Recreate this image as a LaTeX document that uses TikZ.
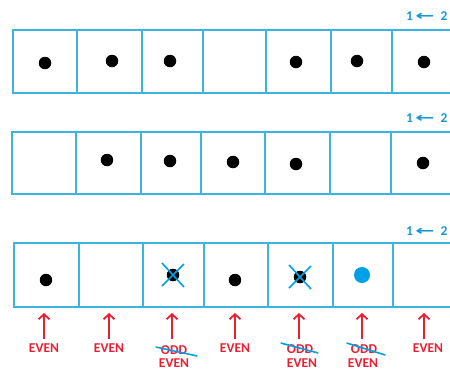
\documentclass[tikz,border=0pt]{standalone}
\usepackage{fontspec}
\newfontfamily\lab{Carlito}
\newfontfamily\arr{DejaVu Sans}
\usetikzlibrary{arrows.meta,calc}
\definecolor{boxblue}{RGB}{60,180,225}
\definecolor{txtblue}{RGB}{25,150,215}
\definecolor{dotblue}{RGB}{0,160,230}
\definecolor{lblred}{RGB}{235,30,50}
\tikzset{
  cellline/.style={draw=boxblue,line width=1.3pt},
  blackdot/.style={circle,fill=black,inner sep=0pt,minimum size=12.5pt},
  bluedot/.style={circle,fill=dotblue,inner sep=0pt,minimum size=16pt},
  crossline/.style={draw=dotblue,line width=1.6pt},
  redarrow/.style={draw=lblred,line width=1.8pt,-{Straight Barb[length=5pt,width=11pt,line width=1.8pt]}},
  lbl/.style={text=lblred,font=\lab\bfseries\fontsize{13.5}{14}\selectfont,inner sep=0pt},
  steplbl/.style={text=txtblue,font=\lab\bfseries\fontsize{13.5}{14}\selectfont,inner sep=0pt,anchor=west},
  strike/.style={draw=dotblue,line width=1.6pt}
}
\newcommand{\larr}{{\arr\bfseries\scalebox{1.7}[1]{←}}}
\begin{document}
\begin{tikzpicture}[x=1pt,y=-1pt]
\useasboundingbox (0,0) rectangle (450,370);
\clip (0,0) rectangle (450,370);

% step labels
\node[steplbl] (s1) at (406,16) {1\,\larr\ \ 2};
\node[steplbl] (s2) at (406,118) {1\,\larr\ \ 2};
\node[steplbl] (s3) at (406,231) {1\,\larr\ \ 2};

% row 1
\draw[cellline] (13,30) rectangle (470,93);
\foreach \x in {77,142,203,266,331,392} \draw[cellline] (\x,30) -- (\x,93);
% row 2
\draw[cellline] (12,132) rectangle (470,194);
\foreach \x in {76,141,201,265,330,391} \draw[cellline] (\x,132) -- (\x,194);
% row 3
\draw[cellline] (14,243) rectangle (470,307);
\foreach \x in {79,143,204,268,333,393} \draw[cellline] (\x,243) -- (\x,307);

% row 1 dots
\node[blackdot] (a1) at (45,63) {};
\node[blackdot] (a2) at (112,61) {};
\node[blackdot] (a3) at (170,61) {};
\node[blackdot] (a5) at (296,62) {};
\node[blackdot] (a6) at (357,61) {};
\node[blackdot] (a7) at (424,62) {};
% row 2 dots
\node[blackdot] (b2) at (107,160) {};
\node[blackdot] (b3) at (170,161) {};
\node[blackdot] (b4) at (233,162) {};
\node[blackdot] (b5) at (296,164) {};
\node[blackdot] (b7) at (423,163) {};
% row 3 dots
\node[blackdot] (c1) at (46,280) {};
\node[blackdot] (c3) at (173,275) {};
\node[blackdot] (c4) at (235,280) {};
\node[blackdot] (c5) at (300,277) {};
\node[bluedot] (c6) at (362,275) {};
\draw[crossline] ($(c3)+(-11,-12)$) -- ($(c3)+(11,12)$) ($(c3)+(11,-11)$) -- ($(c3)+(-11,11)$);
\draw[crossline] ($(c5)+(-11,-12)$) -- ($(c5)+(11,12)$) ($(c5)+(11,-11)$) -- ($(c5)+(-11,11)$);

% labels
\node[lbl] (e1) at (44,348) {EVEN};
\node[lbl] (e2) at (109,348) {EVEN};
\node[lbl] (o3) at (174,350) {ODD};
\node[lbl] (e3) at (174,363.5) {EVEN};
\node[lbl] (e4) at (235,348) {EVEN};
\node[lbl] (o5) at (300,349) {ODD};
\node[lbl] (e5) at (302,363.5) {EVEN};
\node[lbl] (o6) at (364,349) {ODD};
\node[lbl] (e6) at (363,363.5) {EVEN};
\node[lbl] (e7) at (428,348) {EVEN};

% strike lines
\draw[strike] ($(o3.west)+(-5,-3)$) -- ($(o3.east)+(10,6)$);
\draw[strike] ($(o5.west)+(-6,-6)$) -- ($(o5.east)+(5,4)$);
\draw[strike] ($(o6.west)+(-4,-6)$) -- ($(o6.east)+(8,6)$);

% arrows
\foreach \n/\x in {1/44,2/109,3/172,4/235,5/299,6/362,7/424}{
  \coordinate (t\n) at (\x,313);
  \coordinate (f\n) at (\x,339);
  \draw[redarrow] (f\n) -- (t\n);
}
\end{tikzpicture}
\end{document}
